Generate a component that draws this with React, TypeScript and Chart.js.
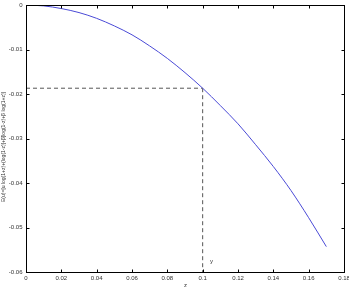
import React, { useEffect, useRef } from "react";
import { Chart, registerables } from "chart.js";

Chart.register(...registerables);

const zValues = [0, 0.01, 0.02, 0.03, 0.04, 0.05, 0.06, 0.07, 0.08, 0.09, 0.1, 0.11, 0.12, 0.13, 0.14, 0.15, 0.16, 0.17];
const eValues = [0, -0.0002, -0.0008, -0.0017, -0.003, -0.0047, -0.0067, -0.0092, -0.012, -0.0152, -0.0187, -0.0226, -0.0267, -0.0314, -0.0363, -0.0417, -0.0478, -0.0543];
const markerZ = 0.1;
const markerE = -0.0187;
const xTicks = [0, 0.02, 0.04, 0.06, 0.08, 0.1, 0.12, 0.14, 0.16, 0.18];
const yTicks = [0, -0.01, -0.02, -0.03, -0.04, -0.05, -0.06];
const xTitle = "z";
const yTitle = "E(u)=[u log(1+z)+(log(1-z)]+β[log(1-z)+β log(1+z)]";
const pointLabel = "y";
const pointLabelPos = { x: 0.105, y: -0.0577 };

const fmt = (v: number) => String(Number(v.toFixed(3)));

const axesPlugin = {
  id: "gnuplotAxes",
  afterDraw(chart: any) {
    const ctx = chart.ctx;
    const a = chart.chartArea;
    const xs = chart.scales.x;
    const ys = chart.scales.y;
    ctx.save();
    ctx.strokeStyle = "#000";
    ctx.lineWidth = 1;
    const L = Math.round(a.left) + 0.5;
    const R = Math.round(a.right) + 0.5;
    const T = Math.round(a.top) + 0.5;
    const B = Math.round(a.bottom) + 0.5;
    ctx.strokeRect(L, T, R - L, B - T);
    const tl = 3;
    ctx.beginPath();
    xTicks.forEach((v) => {
      const px = Math.round(xs.getPixelForValue(v)) + 0.5;
      ctx.moveTo(px, B);
      ctx.lineTo(px, B - tl);
      ctx.moveTo(px, T);
      ctx.lineTo(px, T + tl);
    });
    yTicks.forEach((v) => {
      const py = Math.round(ys.getPixelForValue(v)) + 0.5;
      ctx.moveTo(L, py);
      ctx.lineTo(L + tl, py);
      ctx.moveTo(R, py);
      ctx.lineTo(R - tl, py);
    });
    ctx.stroke();

    ctx.fillStyle = "#333";
    ctx.font = "6px 'Liberation Sans', Arial, sans-serif";
    ctx.textAlign = "center";
    ctx.textBaseline = "middle";
    xTicks.forEach((v) => {
      ctx.fillText(fmt(v), xs.getPixelForValue(v), B + 6);
    });
    ctx.textAlign = "right";
    yTicks.forEach((v) => {
      ctx.fillText(fmt(v), L - 4, ys.getPixelForValue(v));
    });
    ctx.textAlign = "center";
    ctx.fillText(xTitle, (L + R) / 2, B + 13);
    ctx.fillText(pointLabel, xs.getPixelForValue(pointLabelPos.x), ys.getPixelForValue(pointLabelPos.y));

    ctx.save();
    ctx.font = "5px 'Liberation Sans', Arial, sans-serif";
    ctx.translate(4, (T + B) / 2 + 8);
    ctx.rotate(-Math.PI / 2);
    ctx.fillText(yTitle, 0, 0);
    ctx.restore();
    ctx.restore();
  },
};

export default function App() {
  const ref = useRef<HTMLCanvasElement>(null);
  useEffect(() => {
    document.body.style.margin = "0";
    const curve = zValues.map((z, i) => ({ x: z, y: eValues[i] }));
    const chart = new Chart(ref.current!, {
      type: "line",
      data: {
        datasets: [
          {
            data: curve,
            borderColor: "#4a4ad6",
            borderWidth: 1,
            pointRadius: 0,
            cubicInterpolationMode: "monotone",
          },
          {
            data: [
              { x: 0, y: markerE },
              { x: markerZ, y: markerE },
            ],
            borderColor: "#555",
            borderWidth: 1,
            borderDash: [4, 3],
            pointRadius: 0,
          },
          {
            data: [
              { x: markerZ, y: markerE },
              { x: markerZ, y: -0.06 },
            ],
            borderColor: "#555",
            borderWidth: 1,
            borderDash: [4, 3],
            pointRadius: 0,
          },
        ],
      },
      options: {
        animation: false,
        responsive: true,
        maintainAspectRatio: false,
        layout: { padding: { left: 26, right: 5, top: 5, bottom: 15 } },
        plugins: { legend: { display: false }, tooltip: { enabled: false } },
        scales: {
          x: { type: "linear", min: 0, max: 0.18, display: false },
          y: { type: "linear", min: -0.06, max: 0, display: false },
        },
      },
      plugins: [axesPlugin],
    } as any);
    return () => chart.destroy();
  }, []);
  return (
    <div style={{ width: 349, height: 287, position: "relative" }}>
      <canvas ref={ref} />
    </div>
  );
}
